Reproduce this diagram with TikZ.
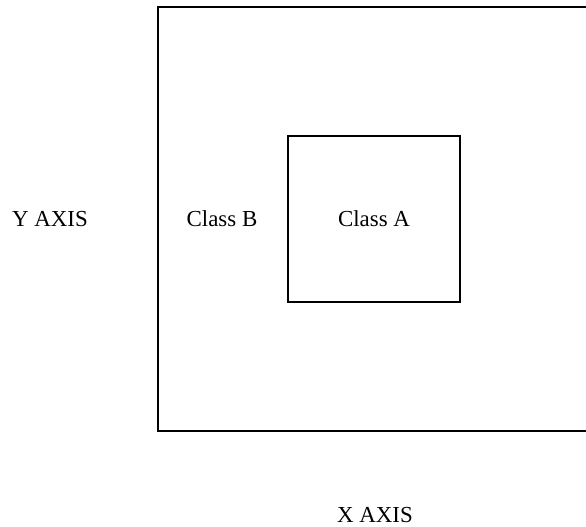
\documentclass[tikz,border=0pt]{standalone}
\usepackage{fontspec}
\setmainfont{Liberation Serif}
\begin{document}
\begin{tikzpicture}[x=1bp,y=-1bp,
  lbl/.style={font=\fontsize{23}{26}\selectfont, inner sep=0pt, anchor=center},
  frame/.style={line width=1.6bp, line cap=rect},
  inbox/.style={draw, line width=1.3bp, minimum width=172bp, minimum height=166bp, inner sep=0pt}]
\useasboundingbox (0,0) rectangle (586,527);
\coordinate (tr) at (590,7);
\coordinate (tl) at (158,7);
\coordinate (bl) at (158,431);
\coordinate (br) at (590,431);
\draw[frame] (tr) -- (tl) -- (bl);
\draw[frame, line width=2.2bp] (bl) -- (br);
\node[inbox] (a) at (374,219) {};
\node[lbl] (ta) at (a.center) {Class A};
\node[lbl] (tb) at (222,219) {Class B};
\node[lbl] (ty) at (50,219) {Y AXIS};
\node[lbl] (tx) at (375,515) {X AXIS};
\end{tikzpicture}
\end{document}
